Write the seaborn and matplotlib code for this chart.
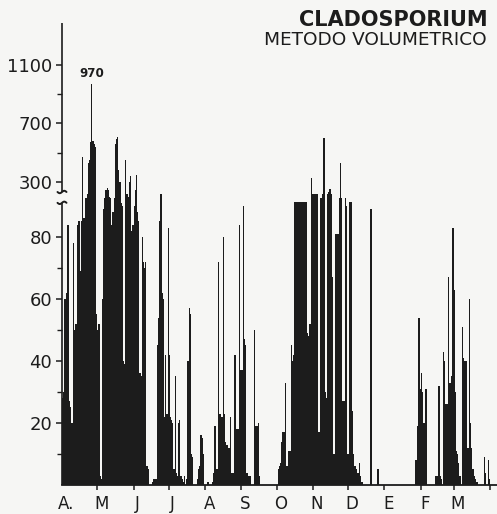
import numpy as np
import pandas as pd
import matplotlib
matplotlib.use("Agg")
import matplotlib.pyplot as plt
import matplotlib.transforms as mtransforms
import seaborn as sns

# ---------------- data (daily counts, April -> March) ----------------
apr = [28, 30, 60, 62, 84, 84, 27, 25, 20, 78, 50, 52, 52, 84, 85, 69, 85, 470, 86, 86,
       150, 200, 430, 450, 570, 970, 580, 560, 540, 55]
may = [50, 52, 3, 2, 60, 89, 150, 240, 260, 240, 160, 150, 84, 88, 150, 560, 590, 610, 380, 300,
       92, 90, 40, 39, 450, 200, 160, 300, 340, 82, 84]
jun = [90, 240, 350, 88, 85, 36, 35, 80, 72, 70, 72, 6, 5, 0, 0, 0, 1, 2, 2, 2,
       45, 54, 85, 200, 62, 60, 22, 42, 23, 83]
jul = [42, 22, 21, 20, 5, 35, 4, 3, 20, 21, 3, 2, 1, 3, 0, 2, 40, 57, 55, 10,
       9, 0, 0, 0, 2, 5, 6, 16, 15, 10, 0]
aug = [0, 0, 1, 0, 0, 0, 1, 4, 19, 5, 5, 72, 23, 23, 22, 80, 23, 14, 13, 13,
       12, 22, 4, 4, 4, 42, 18, 18, 18, 84, 37]
sep = [37, 90, 47, 45, 4, 4, 3, 3, 0, 0, 0, 50, 19, 19, 20, 3, 0, 0, 0, 0,
       0, 0, 0, 0, 0, 0, 0, 0, 0, 0]
oct_ = [0, 5, 6, 7, 14, 17, 17, 33, 6, 6, 11, 11, 45, 40, 42, 100, 105, 100, 100, 100,
        100, 100, 100, 100, 100, 100, 49, 48, 52, 327, 200]
nov = [200, 200, 200, 200, 17, 17, 150, 150, 200, 600, 30, 28, 200, 220, 250, 200, 67, 10, 10, 81,
       81, 81, 150, 430, 150, 27, 27, 150, 90, 10]
dec = [10, 100, 100, 24, 10, 6, 6, 5, 4, 7, 3, 1, 1, 0, 0, 0, 0, 0, 0, 89,
       0, 0, 0, 0, 0, 5, 0, 0, 0, 0, 0]
jan = [0, 0, 0, 0, 0, 0, 0, 0, 0, 0, 0, 0, 0, 0, 0, 0, 0, 0, 0, 0,
       0, 0, 0, 0, 0, 0, 8, 8, 19, 54, 31]
feb = [36, 30, 20, 20, 31, 0, 0, 0, 0, 0, 0, 0, 3, 3, 3, 32, 3, 2, 0, 43,
       40, 26, 26, 67, 33, 33, 35, 83]
mar = [63, 30, 11, 10, 7, 3, 0, 51, 41, 40, 40, 12, 12, 60, 20, 12, 5, 3, 2, 1,
       1, 0, 0, 0, 0, 0, 9, 4, 0, 8, 2]

months = [apr, may, jun, jul, aug, sep, oct_, nov, dec, jan, feb, mar]
month_labels = ["A.", "M", "J", "J", "A", "S", "O", "N", "D", "E", "F", "M"]
y_major = [20, 40, 60, 80, 300, 700, 1100]
y_minor = [10, 30, 50, 70, 500, 900]
peak_label = "970"
title = "CLADOSPORIUM"
subtitle = "METODO VOLUMETRICO"

values = np.concatenate([np.array(m, dtype=float) for m in months])
days = np.arange(len(values))
df = pd.DataFrame({"day": days, "count": values})
month_len = [len(m) for m in months]
month_start = np.concatenate([[0], np.cumsum(month_len)])

# ---------------- broken y scale ----------------
L, U, TU, S = 91.0, 245.0, 95.14, 0.0472
xp = np.array([0.0, L, U, 100000.0])
fp = np.array([0.0, L, TU, TU + (100000.0 - U) * S])


def fwd(v):
    v = np.asarray(v, dtype=float)
    return np.where(v < 0, v, np.interp(v, xp, fp))


def inv(t):
    t = np.asarray(t, dtype=float)
    return np.where(t < 0, t, np.interp(t, fp, xp))


# ---------------- figure ----------------
sns.set_style("ticks")
plt.rcParams["font.family"] = ["DejaVu Sans"]
bg = "#f6f6f4"
ink = "#1c1c1c"

fig = plt.figure(figsize=(4.97, 5.14), dpi=100, facecolor=bg)
ax = fig.add_axes([62 / 497, 29 / 514, 435 / 497, 462 / 514])
ax.set_facecolor(bg)

sns.barplot(data=df, x="day", y="count", native_scale=True, color=ink,
            width=1.0, linewidth=0, errorbar=None, saturation=1, ax=ax)

ax.set_yscale("function", functions=(fwd, inv))
ax.set_ylim(0, 1386)
ax.set_xlim(-0.5, 370.5)

# y ticks
ax.set_yticks(y_major)
ax.set_yticklabels([str(v) for v in y_major])
ax.set_yticks(y_minor, minor=True)
ax.tick_params(axis="y", which="major", length=4.5, width=1.1, color=ink,
               labelsize=13, pad=2.5, labelcolor=ink)
ax.tick_params(axis="y", which="minor", length=3.5, width=1.0, color=ink)

# x ticks: month boundaries (marks) and month labels
ax.set_xticks(month_start[1:] - 0.5)
ax.set_xticklabels([])
ax.set_xticks(month_start[:-1] + 3.0, minor=True)
ax.set_xticklabels(month_labels, minor=True)
ax.tick_params(axis="x", which="major", length=3.5, width=1.1, color=ink, direction="out")
ax.tick_params(axis="x", which="minor", length=0, labelsize=12, pad=7, labelcolor=ink)

ax.set_xlabel("")
ax.set_ylabel("")

for side in ["top", "right", "left"]:
    ax.spines[side].set_visible(False)
ax.spines["bottom"].set_color(ink)
ax.spines["bottom"].set_linewidth(1.3)

# broken left axis line with small wave marks at the break
trans = mtransforms.blended_transform_factory(ax.transAxes, ax.transData)
gap_lo, gap_hi = 91.0, 221.0
ax.plot([0, 0], [0, gap_lo], transform=trans, color=ink, lw=1.2, clip_on=False,
        solid_capstyle="butt")
ax.plot([0, 0], [gap_hi, 1386], transform=trans, color=ink, lw=1.2, clip_on=False,
        solid_capstyle="butt")
wx = np.linspace(-0.045, 0.045, 30)
wy = 0.012 * np.sin(wx / 0.045 * np.pi)
for yv in (gap_lo, gap_hi):
    tr = fig.dpi_scale_trans + mtransforms.ScaledTranslation(0, yv, trans)
    ax.plot(wx, wy, transform=tr, color=ink, lw=1.4, clip_on=False)

# peak annotation
ax.annotate(peak_label, xy=(25, 970), xytext=(0, 3), textcoords="offset points",
            ha="center", va="bottom", fontsize=9.5, fontweight="bold", color=ink,
            fontstretch="condensed")

# titles
fig.text(488 / 497, 1 - 26 / 514, title, ha="right", va="baseline",
         fontsize=15, fontweight="bold", color=ink)
fig.text(487 / 497, 1 - 45 / 514, subtitle, ha="right", va="baseline",
         fontsize=13.3, color=ink)

fig.savefig("out.png", dpi=100, facecolor=bg)
